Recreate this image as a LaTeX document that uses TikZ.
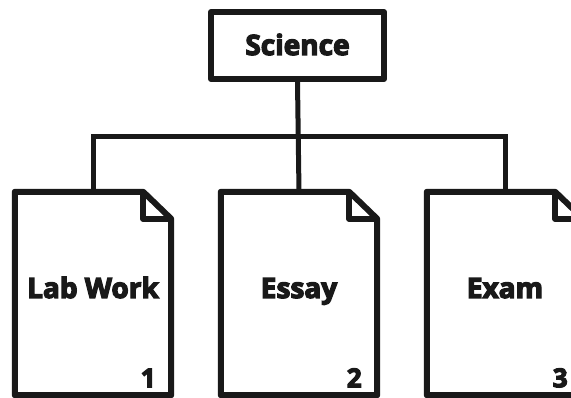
\documentclass[tikz,border=0pt]{standalone}
\usepackage{fontspec}
\setmainfont{Open Sans}[BoldFeatures={FakeBold=4.5}]
\begin{document}
\begin{tikzpicture}[x=1pt,y=1pt,
  ink/.style={line width=6pt,line join=round,draw=black!90},
  wire/.style={line width=5pt,draw=black!90},
  sheet/.style={minimum width=156pt,minimum height=203pt,inner sep=0pt,draw=none},
  title/.style={font=\bfseries\fontsize{28}{30}\selectfont,text=black!90},
  num/.style={font=\bfseries\fontsize{26}{28}\selectfont,text=black!90,anchor=base east}]
\useasboundingbox (0,0) rectangle (571,398);
\clip (0,0) rectangle (571,398);

% top box
\node[ink,draw,minimum width=173pt,minimum height=67pt,inner sep=0pt] (sci) at (297.5,352.5) {};
\node[title,anchor=base] (sci-t) at (297.5,343) {Science};

% the three sheets
\foreach \n/\x/\lbl/\k in {d1/93/Lab Work/1, d2/299/Essay/2, d3/505/Exam/3}{
  \node[sheet] (\n) at (\x,104.5) {};
  \draw[ink] (\n.north west) -- ([xshift=-28pt]\n.north east) -- ([yshift=-27pt]\n.north east)
    -- (\n.south east) -- (\n.south west) -- cycle;
  \draw[ink] ([xshift=-28pt]\n.north east) -- ([xshift=-28pt,yshift=-27pt]\n.north east)
    -- ([yshift=-27pt]\n.north east);
  \node[title,anchor=base] (\n-t) at (\x,100) {\lbl};
  \node[num] (\n-k) at ([xshift=-12pt,yshift=8pt]\n.south east) {\k};
}

% connectors
\coordinate (bar) at (299,261);
\draw[wire] (sci.south) -- (d2.north);
\draw[wire] (d1.north) |- (bar) -| (d3.north);
\end{tikzpicture}
\end{document}
